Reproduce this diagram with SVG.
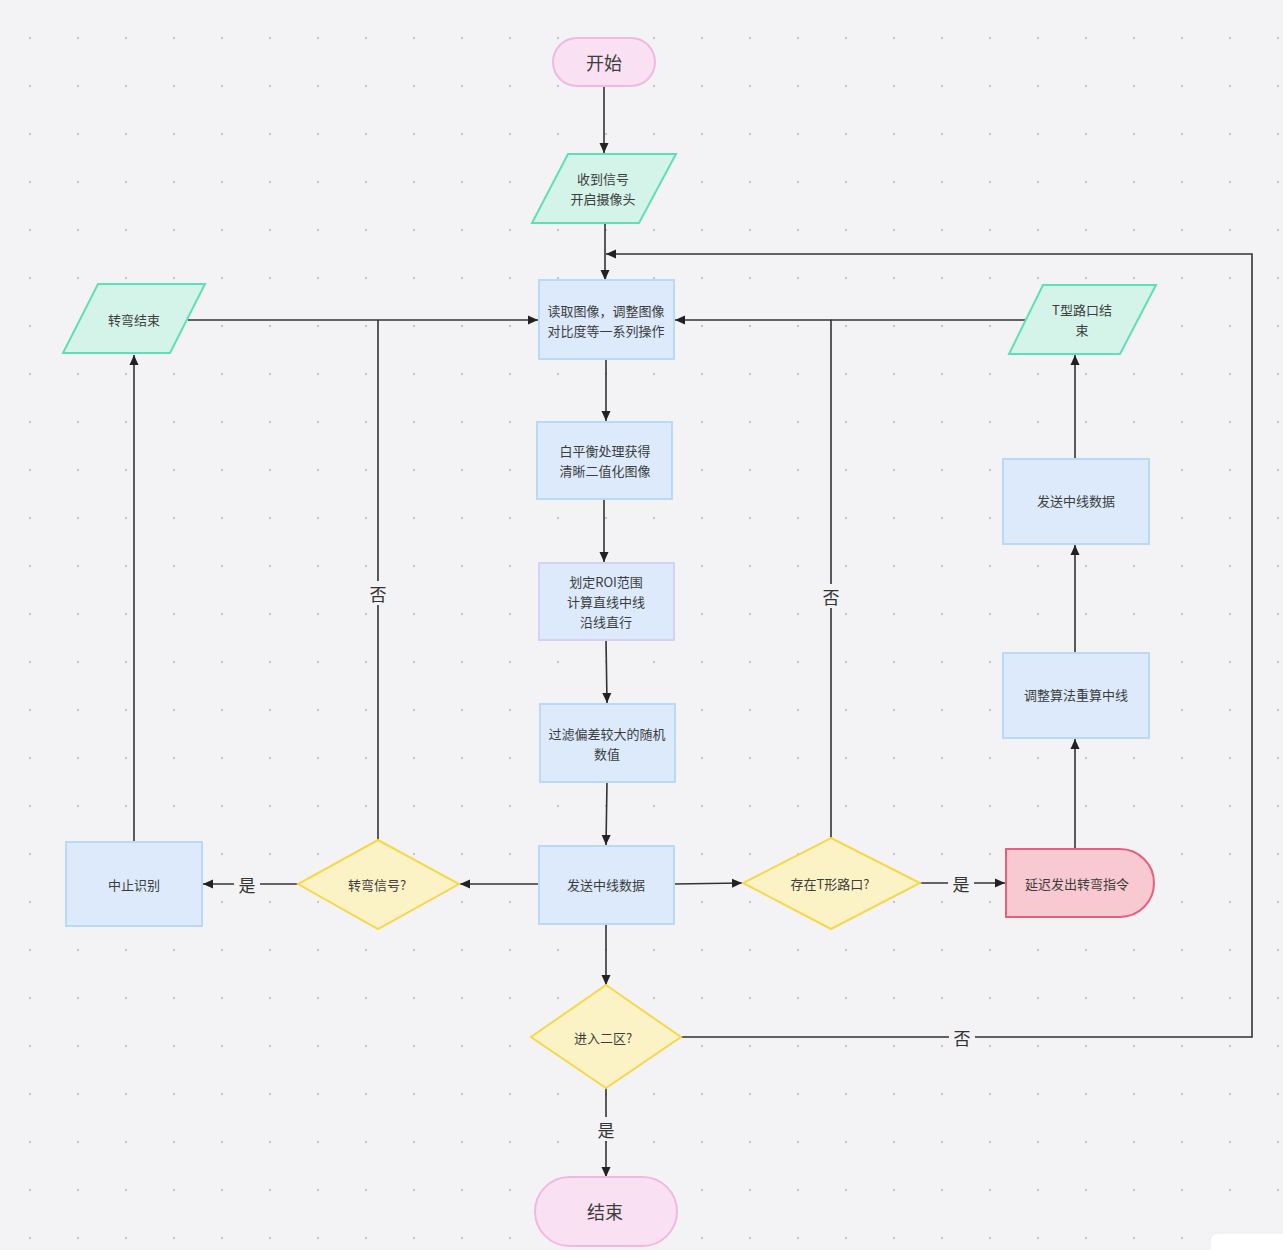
<svg xmlns="http://www.w3.org/2000/svg" width="1283" height="1250" viewBox="0 0 1283 1250">
<defs>
<pattern id="dots" width="48" height="48" patternUnits="userSpaceOnUse">
<rect x="29" y="37" width="2" height="2" fill="#c4c4c8"/>
</pattern>
<marker id="arr" viewBox="0 0 10 10" refX="10" refY="5" markerWidth="10" markerHeight="10" markerUnits="userSpaceOnUse" orient="auto">
<path d="M0,0.5 L10,5 L0,9.5 z" fill="#222"/>
</marker>
<style>
.t{font-family:"Noto Sans CJK SC","Noto Sans",sans-serif;font-size:13px;fill:#3d3d3d;text-anchor:middle;dominant-baseline:central}
.big{font-size:18px}
.lbl{font-family:"Noto Sans CJK SC","Noto Sans",sans-serif;font-size:17px;fill:#333;text-anchor:middle;dominant-baseline:central}
.lb{fill:#f3f3f5}
.pill{fill:#f9e0f3;stroke:#f0b8e2;stroke-width:2}
.para{fill:#d4f4e9;stroke:#5fe0b2;stroke-width:2}
.box{fill:#dceafb;stroke:#b9d9f7;stroke-width:2}
.boxp{fill:#dceafb;stroke:#d4d2f4;stroke-width:2}
.dia{fill:#fbf2c6;stroke:#f6d84c;stroke-width:2}
.red{fill:#f8c9d1;stroke:#e75f7c;stroke-width:2}
.c{fill:none;stroke:#333;stroke-width:1.6}
.ca{fill:none;stroke:#333;stroke-width:1.6;marker-end:url(#arr)}
</style>
</defs>
<rect width="1283" height="1250" fill="#f3f3f5"/>
<rect width="1283" height="1250" fill="url(#dots)"/>
<rect x="1210" y="1233" width="90" height="30" rx="8" fill="#ffffff" stroke="#ececee"/>

<g id="connectors">
<path class="ca" d="M604,86 V153"/>
<path class="ca" d="M605,224 V280"/>
<path class="ca" d="M681,1037 H1252 V254 H606"/>
<path class="ca" d="M606,359 V421"/>
<path class="ca" d="M604,499 V562"/>
<path class="ca" d="M606,640 L607,703"/>
<path class="ca" d="M607,782 L606,845"/>
<path class="ca" d="M539,884 H460"/>
<path class="ca" d="M674,884 L742,883"/>
<path class="ca" d="M298,884 H203"/>
<path class="ca" d="M134,842 V355"/>
<path class="ca" d="M188,320 H538"/>
<path class="c" d="M378,840 V320"/>
<path class="ca" d="M831,838 V320 H675"/>
<path class="c" d="M1027,320 H831"/>
<path class="ca" d="M920,883 H1005"/>
<path class="ca" d="M1075,849 V739"/>
<path class="ca" d="M1075,653 V545"/>
<path class="ca" d="M1075,459 V355"/>
<path class="ca" d="M606,924 V985"/>
<path class="ca" d="M606,1088 V1177"/>
<rect class="lb" x="949" y="1025" width="26" height="24"/>
<text class="lbl" x="962" y="1037">否</text>
<rect class="lb" x="234" y="872" width="26" height="24"/>
<text class="lbl" x="247" y="884">是</text>
<rect class="lb" x="365" y="581" width="26" height="24"/>
<text class="lbl" x="378" y="593">否</text>
<rect class="lb" x="818" y="584" width="26" height="24"/>
<text class="lbl" x="831" y="596">否</text>
<rect class="lb" x="948" y="871" width="26" height="24"/>
<text class="lbl" x="961" y="883">是</text>
<rect class="lb" x="593" y="1117" width="26" height="24"/>
<text class="lbl" x="606" y="1129">是</text>
</g>

<g id="start">
<rect class="pill" x="553" y="38" width="102" height="48" rx="24"/>
<text class="t big" x="604" y="62">开始</text>
</g>
<g id="receive">
<polygon class="para" points="568,154 676,154 639,223 532,223"/>
<text class="t" x="603" y="178">收到信号</text>
<text class="t" x="603" y="198">开启摄像头</text>
</g>
<g id="read">
<rect class="box" x="539" y="280" width="135" height="79"/>
<text class="t" x="606" y="310">读取图像，调整图像</text>
<text class="t" x="606" y="330">对比度等一系列操作</text>
</g>
<g id="wb">
<rect class="box" x="537" y="422" width="135" height="77"/>
<text class="t" x="605" y="450">白平衡处理获得</text>
<text class="t" x="605" y="470">清晰二值化图像</text>
</g>
<g id="roi">
<rect class="boxp" x="539" y="563" width="135" height="77"/>
<text class="t" x="606" y="581">划定ROI范围</text>
<text class="t" x="606" y="601">计算直线中线</text>
<text class="t" x="606" y="621">沿线直行</text>
</g>
<g id="filter">
<rect class="box" x="540" y="704" width="135" height="78"/>
<text class="t" x="607" y="733">过滤偏差较大的随机</text>
<text class="t" x="607" y="753">数值</text>
</g>
<g id="send">
<rect class="box" x="539" y="846" width="135" height="78"/>
<text class="t" x="606" y="884">发送中线数据</text>
</g>
<g id="turnq">
<polygon class="dia" points="378,840 459,884 378,929 298,884"/>
<text class="t" x="377" y="884">转弯信号?</text>
</g>
<g id="stop">
<rect class="box" x="66" y="842" width="136" height="84"/>
<text class="t" x="134" y="884">中止识别</text>
</g>
<g id="turnend">
<polygon class="para" points="98,284 205,284 170,353 63,353"/>
<text class="t" x="134" y="319">转弯结束</text>
</g>
<g id="tq">
<polygon class="dia" points="831,838 920,883 831,929 743,883"/>
<text class="t" x="830" y="883">存在T形路口?</text>
</g>
<g id="delay">
<path class="red" d="M1006,849 H1120 A34,34 0 0 1 1120,917 H1006 Z"/>
<text class="t" x="1077" y="883">延迟发出转弯指令</text>
</g>
<g id="adjust">
<rect class="box" x="1003" y="653" width="146" height="85"/>
<text class="t" x="1076" y="694">调整算法重算中线</text>
</g>
<g id="send2">
<rect class="box" x="1003" y="459" width="146" height="85"/>
<text class="t" x="1076" y="500">发送中线数据</text>
</g>
<g id="tend">
<polygon class="para" points="1043,285 1156,285 1120,354 1009,354"/>
<text class="t" x="1082" y="309">T型路口结</text>
<text class="t" x="1082" y="329">束</text>
</g>
<g id="zone2">
<polygon class="dia" points="606,985 681,1037 606,1088 531,1037"/>
<text class="t" x="603" y="1037">进入二区?</text>
</g>
<g id="end">
<rect class="pill" x="535" y="1177" width="142" height="69" rx="34.5"/>
<text class="t big" x="605" y="1211">结束</text>
</g>
</svg>
